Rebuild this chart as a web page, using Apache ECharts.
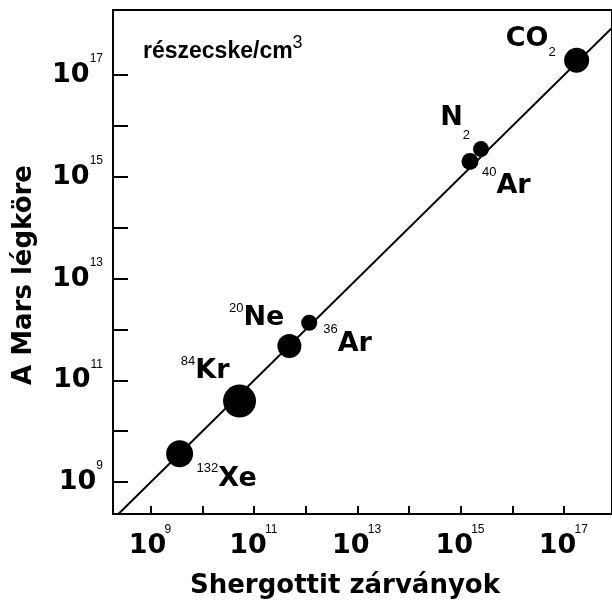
<!DOCTYPE html>
<html>
<head>
<meta charset="utf-8">
<script src="https://cdn.jsdelivr.net/npm/echarts@6/dist/echarts.min.js"></script>
<style>
  html, body { margin: 0; padding: 0; background: #fff; }
  #chart { width: 612px; height: 605px; }
</style>
</head>
<body>
<div id="chart"></div>
<script>
// ---- data ----
const species      = ['132Xe', '84Kr', '20Ne', '36Ar', '40Ar', 'N2', 'CO2'];
const isotopeMass  = ['132', '84', '20', '36', '40', '', ''];
const elementName  = ['Xe', 'Kr', 'Ne', 'Ar', 'Ar', 'N', 'CO'];
const subscriptNum = ['', '', '', '', '', '2', '2'];
const shergottite  = [3.6e9, 5.2e10, 4.8e11, 1.16e12, 1.5e15, 2.45e15, 1.74e17]; // x: Shergottit zárványok
const marsAtmos    = [3.6e9, 3.9e10, 4.7e11, 1.35e12, 2.0e15, 3.5e15, 1.95e17]; // y: A Mars légköre
const oneToOne     = [[1e8, 1e8], [1e19, 1e19]];
const tickValues   = [1e9, 1e10, 1e11, 1e12, 1e13, 1e14, 1e15, 1e16, 1e17];
const labelValues  = [1e9, 1e11, 1e13, 1e15, 1e17];
const xTitle = 'Shergottit zárványok';
const yTitle = 'A Mars légköre';
const unitText = 'részecske/cm';
const unitSup = '3';

// ---- styles ----
const markerSize = { '132Xe': 27, '84Kr': 33, '20Ne': 24, '36Ar': 16, '40Ar': 17, 'N2': 16, 'CO2': 25 };
const labelLayout = {
  '132Xe': { dx: 17,  dy: 25,  align: 'left',  lh: 33 },
  '84Kr':  { dx: -10, dy: -30, align: 'right', lh: 32 },
  '20Ne':  { dx: -5,  dy: -28, align: 'right', lh: 32 },
  '36Ar':  { dx: 14,  dy: 21,  align: 'left',  lh: 42 },
  '40Ar':  { dx: 12,  dy: 25,  align: 'left',  lh: 42 },
  'N2':    { dx: -11, dy: -31, align: 'right', lh: 47 },
  'CO2':   { dx: -21, dy: -21, align: 'right', lh: 39 }
};
const BIG = 'DejaVu Sans';
const SMALL = 'Liberation Sans';

const points = species.map((name, i) => {
  const L = labelLayout[name];
  let text = '';
  if (isotopeMass[i]) text += '{sup|' + isotopeMass[i] + '}';
  text += '{m|' + elementName[i] + '}';
  if (subscriptNum[i]) text += '{sub|' + subscriptNum[i] + '}';
  return {
    name: name,
    value: [shergottite[i], marsAtmos[i]],
    symbolSize: markerSize[name],
    label: {
      show: true,
      position: 'inside',
      offset: [L.dx, L.dy],
      align: L.align,
      verticalAlign: 'middle',
      color: '#000',
      formatter: text,
      rich: {
        m:   { fontFamily: BIG, fontWeight: 'bold', fontSize: 27, lineHeight: L.lh, color: '#000', verticalAlign: 'middle' },
        sup: { fontFamily: SMALL, fontSize: 13, lineHeight: 13, color: '#000', verticalAlign: 'top' },
        sub: { fontFamily: SMALL, fontSize: 13, lineHeight: 13, color: '#000', verticalAlign: 'bottom' }
      }
    }
  };
});

function powLabel(v) {
  const e = Math.round(Math.log10(v));
  return '{b|10}{s|' + e + '}';
}
const tickRich = {
  b: { fontFamily: BIG, fontWeight: 'bold', fontSize: 27, lineHeight: 44, color: '#000', verticalAlign: 'middle', width: 34 },
  s: { fontFamily: SMALL, fontSize: 12, lineHeight: 12, color: '#000', verticalAlign: 'top' }
};

const chart = echarts.init(document.getElementById('chart'), null, { renderer: 'canvas' });
chart.setOption({
  animation: false,
  backgroundColor: '#fff',
  title: {
    text: unitText + '{s|' + unitSup + '}',
    left: 143, top: 34, padding: 0,
    textStyle: {
      fontFamily: SMALL, fontWeight: 'bold', fontSize: 23, lineHeight: 36, color: '#000',
      rich: {
        s: { fontFamily: SMALL, fontWeight: 'normal', fontSize: 18, lineHeight: 18, color: '#000', verticalAlign: 'top' }
      }
    }
  },
  grid: {
    left: 113, top: 10, width: 501, height: 504,
    show: true, borderColor: '#000', borderWidth: 2, backgroundColor: 'transparent'
  },
  xAxis: {
    type: 'log',
    min: Math.pow(10, 8.267), max: Math.pow(10, 17.925),
    axisLine: { show: false },
    splitLine: { show: false },
    minorTick: { show: false },
    axisTick: { show: true, inside: true, length: 8, lineStyle: { color: '#000', width: 2 }, customValues: tickValues },
    axisLabel: { show: true, margin: 10, formatter: powLabel, rich: tickRich, customValues: labelValues }
  },
  yAxis: {
    type: 'log',
    min: Math.pow(10, 8.371), max: Math.pow(10, 18.278),
    axisLine: { show: false },
    splitLine: { show: false },
    minorTick: { show: false },
    axisTick: { show: true, inside: true, length: 15, lineStyle: { color: '#000', width: 2 }, customValues: tickValues },
    axisLabel: { show: true, margin: 10, formatter: powLabel, rich: tickRich, customValues: labelValues }
  },
  graphic: [
    {
      type: 'text', x: 345, y: 586,
      style: { text: xTitle, fontFamily: BIG, fontWeight: 'bold', fontSize: 26, fill: '#000', align: 'center', verticalAlign: 'middle' }
    },
    {
      type: 'text', x: 24, y: 275, rotation: Math.PI / 2,
      style: { text: yTitle, fontFamily: BIG, fontWeight: 'bold', fontSize: 26, fill: '#000', align: 'center', verticalAlign: 'middle' }
    }
  ],
  series: [
    {
      type: 'line',
      data: oneToOne,
      symbol: 'none',
      clip: true,
      lineStyle: { color: '#000', width: 2, opacity: 1 },
      z: 1,
      silent: true
    },
    {
      type: 'scatter',
      data: points,
      symbol: 'circle',
      itemStyle: { color: '#000', opacity: 1 },
      emphasis: { disabled: true },
      z: 2
    }
  ]
});
</script>
</body>
</html>
